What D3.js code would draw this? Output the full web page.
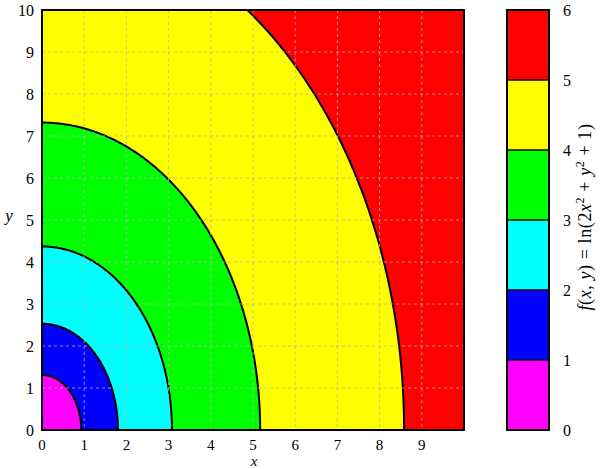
<!DOCTYPE html>
<html><head><meta charset="utf-8">
<script src="https://cdn.jsdelivr.net/npm/d3@7"></script>
<style>body{margin:0;background:#fff}</style>
</head><body><svg id="c" width="600" height="469" font-family="Liberation Serif"></svg>
<script>
// contour levels and colours
const levels = [0, 1, 2, 3, 4, 5, 6];
const bandColors = ["#ff00ff", "#0000ff", "#00ffff", "#00ff00", "#ffff00", "#ff0000"];
// contour line intercepts (level 1..5)
const contourLevels = [1, 2, 3, 4, 5];
const xIntercepts = [0.93, 1.80, 3.08, 5.17, 8.58];
const yIntercepts = [1.31, 2.53, 4.37, 7.32, 12.14];
const xTicks = [0, 1, 2, 3, 4, 5, 6, 7, 8, 9];
const yTicks = [0, 1, 2, 3, 4, 5, 6, 7, 8, 9, 10];
const gridVals = [1, 2, 3, 4, 5, 6, 7, 8, 9];

const FONT = "Liberation Serif";
const svg = d3.select("#c");
const L = 42, R = 464, T = 10, B = 430;
const x = d3.scaleLinear().domain([0, 10]).range([L, R]);
const y = d3.scaleLinear().domain([0, 10]).range([B, T]);

svg.append("defs").append("clipPath").attr("id", "pc")
  .append("rect").attr("x", L).attr("y", T).attr("width", R - L).attr("height", B - T);
const g = svg.append("g").attr("clip-path", "url(#pc)");

g.append("rect").attr("x", L).attr("y", T).attr("width", R - L).attr("height", B - T)
  .attr("fill", bandColors[bandColors.length - 1]);

function arcPts(a, b) {
  const pts = [];
  for (let i = 0; i <= 200; i++) {
    const t = (Math.PI / 2) * i / 200;
    pts.push([a * Math.cos(t), b * Math.sin(t)]);
  }
  return pts;
}
const line = d3.line().x(d => x(d[0])).y(d => y(d[1]));

for (let i = contourLevels.length - 1; i >= 0; i--) {
  const pts = arcPts(xIntercepts[i], yIntercepts[i]);
  const area = [[0, 0]].concat(pts).concat([[0, 0]]);
  g.append("path").attr("d", line(area) + "Z").attr("fill", bandColors[i]);
}
const grid = svg.append("g");
gridVals.forEach(v => {
  grid.append("line").attr("x1", x(v)).attr("x2", x(v)).attr("y1", T).attr("y2", B);
  grid.append("line").attr("y1", y(v)).attr("y2", y(v)).attr("x1", L).attr("x2", R);
});
grid.selectAll("line").attr("stroke", "#b4b4b4").attr("stroke-width", 0.8).attr("stroke-dasharray", "3,3");

for (let i = 0; i < contourLevels.length; i++) {
  g.append("path").attr("d", line(arcPts(xIntercepts[i], yIntercepts[i])))
    .attr("fill", "none").attr("stroke", "#000").attr("stroke-width", 2);
}
svg.append("rect").attr("x", L).attr("y", T).attr("width", R - L).attr("height", B - T)
  .attr("fill", "none").attr("stroke", "#000").attr("stroke-width", 2);

svg.append("g").selectAll("text").data(xTicks).join("text")
  .attr("font-family", FONT)
  .attr("x", d => x(d)).attr("y", 450).attr("text-anchor", "middle")
  .attr("font-size", 15).text(d => d);
svg.append("g").selectAll("text").data(yTicks).join("text")
  .attr("font-family", FONT)
  .attr("x", 34).attr("y", d => y(d) + 5.5).attr("text-anchor", "end")
  .attr("font-size", 16).text(d => d);
svg.append("text").attr("font-family", FONT).attr("x", 254).attr("y", 466).attr("text-anchor", "middle")
  .attr("font-size", 15).attr("font-style", "italic").text("x");
svg.append("text").attr("font-family", FONT).attr("x", 9).attr("y", 221).attr("text-anchor", "middle")
  .attr("font-size", 17).attr("font-style", "italic").text("y");

const cL = 507, cR = 549;
const cy = d3.scaleLinear().domain([0, 6]).range([B, T]);
const cb = svg.append("g");
cb.selectAll("rect").data(bandColors).join("rect")
  .attr("x", cL).attr("width", cR - cL)
  .attr("y", (d, i) => cy(levels[i + 1])).attr("height", (d, i) => cy(levels[i]) - cy(levels[i + 1]))
  .attr("fill", d => d);
cb.selectAll("line").data(levels.slice(1, -1)).join("line")
  .attr("x1", cL).attr("x2", cR).attr("y1", d => cy(d)).attr("y2", d => cy(d))
  .attr("stroke", "#000").attr("stroke-width", 1.5);
cb.append("rect").attr("x", cL).attr("y", T).attr("width", cR - cL).attr("height", B - T)
  .attr("fill", "none").attr("stroke", "#000").attr("stroke-width", 2);
cb.selectAll("text").data(levels).join("text")
  .attr("font-family", FONT)
  .attr("x", 567).attr("y", d => cy(d) + 5.5).attr("text-anchor", "middle")
  .attr("font-size", 16).text(d => d);

const lab = svg.append("text").attr("font-family", FONT).attr("transform", "translate(591,217) rotate(-90)")
  .attr("text-anchor", "middle").attr("font-size", 18).attr("letter-spacing", 0.6);
lab.append("tspan").attr("font-style", "italic").text("f");
lab.append("tspan").text("(");
lab.append("tspan").attr("font-style", "italic").text("x");
lab.append("tspan").text(", ");
lab.append("tspan").attr("font-style", "italic").text("y");
lab.append("tspan").text(") = ln(2");
lab.append("tspan").attr("font-style", "italic").text("x");
lab.append("tspan").attr("font-size", 12).attr("dy", -7).text("2");
lab.append("tspan").attr("dy", 7).text(" + ");
lab.append("tspan").attr("font-style", "italic").text("y");
lab.append("tspan").attr("font-size", 12).attr("dy", -7).text("2");
lab.append("tspan").attr("dy", 7).text(" + 1)");
</script></body></html>
